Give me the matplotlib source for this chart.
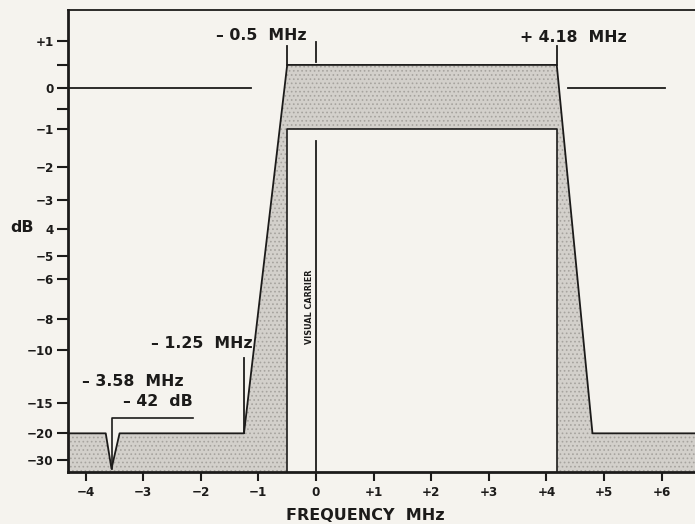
import numpy as np
import matplotlib
matplotlib.use("Agg")
import matplotlib.pyplot as plt

# ---- data ----
# upper envelope of the tolerance mask (MHz, dB)
outer_freq = [-4.30, -3.65, -3.55, -3.41, -1.25, -0.50, 4.18, 4.80, 6.58]
outer_db = [-20, -20, -42, -20, -20, 0.5, 0.5, -20, -20]
# inner (minimum) response box
inner_freq = [-0.50, 4.18]
inner_db = -1.0
# 0 dB reference segments
ref_left = [-4.30, -1.13]
ref_right = [4.38, 6.06]

xtick_vals = [-4, -3, -2, -1, 0, 1, 2, 3, 4, 5, 6]
xtick_labels = ["−4", "−3", "−2", "−1", "0", "+1", "+2", "+3", "+4", "+5", "+6"]
ytick_vals = [1, 0.5, 0, -0.5, -1, -2, -3, -4, -5, -6, -8, -10, -15, -20, -30]
ytick_labels = ["+1", "", "0", "", "−1", "−2", "−3", "4", "−5", "−6", "−8",
                "−10", "−15", "−20", "−30"]

BG = "#f5f3ee"
SHADE = "#d3d0cb"
INK = "#1c1b1a"

plt.rcParams["hatch.linewidth"] = 0.7
plt.rcParams["hatch.color"] = "#a6a39e"

fig = plt.figure(figsize=(6.95, 5.24), dpi=100, facecolor=BG)
ax = fig.add_axes([68.3 / 695, 1 - 471.7 / 524, 1 - 68.3 / 695, (471.7 - 10) / 524])
ax.set_facecolor(BG)


def fwd(db):
    return 10 ** (np.asarray(db, dtype=float) / 20.0)


def inv(a):
    return 20 * np.log10(np.maximum(np.asarray(a, dtype=float), 1e-12))


ax.set_yscale("function", functions=(fwd, inv))
ax.set_xlim(-4.30, 6.58)
ax.set_ylim(-80, 1.6)
BOT = -80

# shaded tolerance region
ax.fill_between(outer_freq, BOT, outer_db, facecolor=SHADE, hatch="....",
                edgecolor="none", linewidth=0, zorder=1)
# inner white box
ax.fill_between(inner_freq, BOT, inner_db, facecolor=BG, edgecolor="none", zorder=2)
ax.plot([inner_freq[0], inner_freq[0], inner_freq[1], inner_freq[1]],
        [BOT, inner_db, inner_db, BOT], color=INK, lw=1.2, zorder=3)
# envelope outline
ax.plot(outer_freq, outer_db, color=INK, lw=1.3, zorder=3)

# 0 dB reference
ax.plot(ref_left, [0, 0], color=INK, lw=1.3, zorder=3)
ax.plot(ref_right, [0, 0], color=INK, lw=1.3, zorder=3)

# leaders / markers
ax.plot([-0.5, -0.5], [0.5, 0.90], color=INK, lw=1.3, zorder=3)
ax.plot([4.18, 4.18], [0.5, 0.89], color=INK, lw=1.3, zorder=3)
ax.plot([0, 0], [0.57, 0.97], color=INK, lw=1.3, zorder=3)
ax.plot([0, 0], [BOT, -1.30], color=INK, lw=1.3, zorder=3)
ax.plot([-1.25, -1.25], [-20, -10.6], color=INK, lw=1.3, zorder=3)
ax.plot([outer_freq[2], outer_freq[2], -2.13], [-42, -17.1, -17.1], color=INK, lw=1.2, zorder=3)

# axes styling
ax.spines["right"].set_visible(False)
ax.spines["left"].set_linewidth(2.0)
ax.spines["bottom"].set_linewidth(2.0)
ax.spines["top"].set_linewidth(1.3)
for s in ["left", "bottom", "top"]:
    ax.spines[s].set_color(INK)

tickfont = dict(family=["DejaVu Sans"], weight="bold", size=9.5, stretch="condensed")
ax.set_xticks(xtick_vals)
ax.set_xticklabels(xtick_labels, **tickfont)
ax.set_yticks(ytick_vals)
ax.set_yticklabels(ytick_labels, **tickfont)
ax.yaxis.set_minor_locator(matplotlib.ticker.NullLocator())
ax.xaxis.set_minor_locator(matplotlib.ticker.NullLocator())
ax.tick_params(axis="y", length=8, width=1.5, pad=2.5, colors=INK)
ax.tick_params(axis="x", length=6.5, width=1.5, pad=3.5, colors=INK)

lab = dict(family="DejaVu Sans", weight="bold", color=INK, size=11.3)
T = fig.transFigure
fig.text(307 / 695, 1 - 35 / 524, "– 0.5  MHz", ha="right", va="center", transform=T, **lab)
fig.text(573 / 695, 1 - 37 / 524, "+ 4.18  MHz", ha="center", va="center", transform=T, **lab)
fig.text(253 / 695, 1 - 343 / 524, "– 1.25  MHz", ha="right", va="center", transform=T, **lab)
fig.text(81.7 / 695, 1 - 382 / 524, "– 3.58  MHz", ha="left", va="center", transform=T, **lab)
fig.text(123 / 695, 1 - 401.7 / 524, "– 42  dB", ha="left", va="center", transform=T, **lab)
fig.text(22 / 695, 1 - 228 / 524, "dB", ha="center", va="center", transform=T, **lab)
fig.text(365 / 695, 1 - 515 / 524, "FREQUENCY  MHz", ha="center", va="center", transform=T,
         family="DejaVu Sans", weight="bold", color=INK, size=11.5)
fig.text(309 / 695, 1 - 307 / 524, "VISUAL CARRIER", ha="center", va="center", rotation=90,
         transform=T, family="DejaVu Sans", weight="bold", size=5.8, color=INK)

fig.savefig("out.png", dpi=100, facecolor=BG)
